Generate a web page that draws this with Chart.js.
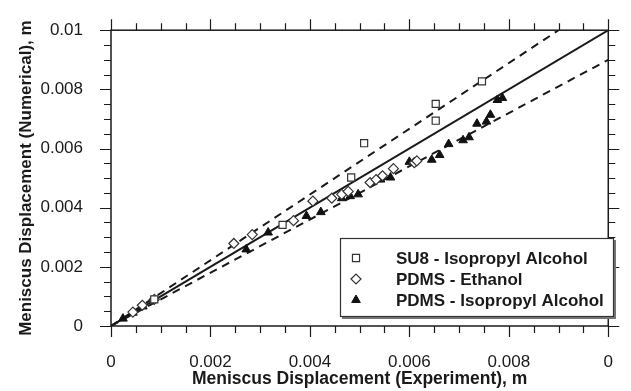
<!DOCTYPE html>
<html>
<head>
<meta charset="utf-8">
<script src="https://cdn.jsdelivr.net/npm/chart.js@4.4.1/dist/chart.umd.min.js"></script>
<style>
  html, body { margin: 0; padding: 0; background: #fff; }
  #wrap { width: 631px; height: 391px; }
</style>
</head>
<body>
<div id="wrap"><canvas id="chart" width="631" height="391"></canvas></div>
<script>
// ---------- Data (metres) ----------
const su8IpaX = [0.00087, 0.00345, 0.00483, 0.00509, 0.00653, 0.00653, 0.00746];
const su8IpaY = [0.00090, 0.00342, 0.00502, 0.00618, 0.00694, 0.00751, 0.00827];

const pdmsEthX = [0.00044, 0.00063, 0.00087, 0.00247, 0.00284, 0.00367, 0.00406, 0.00444, 0.00464, 0.00477,
                  0.00521, 0.00533, 0.00546, 0.00568, 0.00610, 0.00615];
const pdmsEthY = [0.00047, 0.00070, 0.00090, 0.00279, 0.00309, 0.00356, 0.00422, 0.00432, 0.00445, 0.00455,
                  0.00485, 0.00495, 0.00508, 0.00532, 0.00552, 0.00558];

const pdmsIpaX = [0.00024, 0.00044, 0.00064, 0.00272, 0.00316, 0.00393, 0.00422, 0.00464, 0.00481, 0.00497,
                  0.00542, 0.00562, 0.00600, 0.00645, 0.00661, 0.00679, 0.00708, 0.00720, 0.00736, 0.00755,
                  0.00763, 0.00777, 0.00787];
const pdmsIpaY = [0.00025, 0.00045, 0.00066, 0.00259, 0.00316, 0.00372, 0.00385, 0.00432, 0.00439, 0.00445,
                  0.00495, 0.00502, 0.00555, 0.00562, 0.00578, 0.00615, 0.00628, 0.00638, 0.00684, 0.00691,
                  0.00714, 0.00764, 0.00771];

// reference lines: y = x, and +/- 10 % bands
const perfectX = [0, 0.01];
const perfectY = [0, 0.01];
const upperX = [0, 0.009];
const upperY = [0, 0.01];
const lowerX = [0, 0.01];
const lowerY = [0, 0.009];

const X_TICKS = [0, 0.002, 0.004, 0.006, 0.008, 0.01];
const X_TICK_LABELS = ['0', '0.002', '0.004', '0.006', '0.008', '0'];
const Y_TICKS = [0, 0.002, 0.004, 0.006, 0.008, 0.01];
const Y_TICK_LABELS = ['0', '0.002', '0.004', '0.006', '0.008', '0.01'];

const SERIES_NAMES = ['SU8 - Isopropyl Alcohol', 'PDMS - Ethanol', 'PDMS - Isopropyl Alcohol'];

// ---------- Helpers ----------
const FONT = '"Liberation Sans", Arial, Helvetica, sans-serif';
const INK = '#1a1a1a';

function pairs(xs, ys) {
  return xs.map((x, i) => ({ x: x, y: ys[i] }));
}

function labelFor(ticks, labels, v) {
  const i = ticks.findIndex(t => Math.abs(t - v) < 1e-9);
  return i >= 0 ? labels[i] : '';
}

// ---------- Plugins ----------
// box frame with outward major/minor tick marks on all four sides
const frameTicks = {
  id: 'frameTicks',
  afterDatasetsDraw(chart) {
    const { ctx, chartArea: a, scales: { x, y } } = chart;
    ctx.save();
    ctx.strokeStyle = INK;
    ctx.lineWidth = 1.5;
    ctx.strokeRect(a.left, a.top, a.right - a.left, a.bottom - a.top);
    ctx.lineWidth = 1.2;
    ctx.beginPath();
    for (let k = 0; k <= 20; k++) {
      const v = k * 0.0005;
      const len = k % 4 === 0 ? 11 : 7;
      const px = Math.round(x.getPixelForValue(v)) + 0.5;
      const py = Math.round(y.getPixelForValue(v)) + 0.5;
      ctx.moveTo(px, a.bottom); ctx.lineTo(px, a.bottom + len);
      ctx.moveTo(px, a.top); ctx.lineTo(px, a.top - len);
      ctx.moveTo(a.left, py); ctx.lineTo(a.left - len, py);
      ctx.moveTo(a.right, py); ctx.lineTo(a.right + len, py);
    }
    ctx.stroke();
    ctx.restore();
  }
};

// boxed legend (with a thin drop shadow) in the lower right of the plot
const boxLegend = {
  id: 'boxLegend',
  afterDraw(chart) {
    const { ctx } = chart;
    const left = 340, top = 238, right = 613, bottom = 316;
    ctx.save();
    ctx.fillStyle = '#777';
    ctx.fillRect(left + 2, top + 2, right - left + 1, bottom - top + 1);
    ctx.fillStyle = '#fff';
    ctx.fillRect(left, top, right - left, bottom - top);
    ctx.strokeStyle = '#333';
    ctx.lineWidth = 1.2;
    ctx.strokeRect(left + 0.5, top + 0.5, right - left, bottom - top);
    ctx.font = 'bold 17px ' + FONT;
    ctx.textBaseline = 'middle';
    for (let i = 0; i < 3; i++) {
      const ds = chart.data.datasets[i];
      const cy = 258 + i * 21;
      ctx.strokeStyle = ds.borderColor;
      ctx.fillStyle = ds.backgroundColor;
      ctx.lineWidth = ds.borderWidth;
      Chart.helpers.drawPoint(ctx, { pointStyle: ds.pointStyle, radius: ds.pointRadius, borderWidth: ds.borderWidth }, 356, cy);
      ctx.fillStyle = INK;
      ctx.fillText(SERIES_NAMES[i], 396, cy + 1);
    }
    ctx.restore();
  }
};

// ---------- Chart ----------
const lineBase = { type: 'line', showLine: true, pointRadius: 0, borderColor: INK, borderWidth: 2, fill: false, order: 5 };

new Chart(document.getElementById('chart'), {
  type: 'scatter',
  data: {
    datasets: [
      { label: SERIES_NAMES[0], data: pairs(su8IpaX, su8IpaY), pointStyle: 'rect', pointRadius: 5,
        borderColor: '#333', backgroundColor: '#fff', borderWidth: 1.2 },
      { label: SERIES_NAMES[1], data: pairs(pdmsEthX, pdmsEthY), pointStyle: 'rectRot', pointRadius: 5,
        borderColor: '#333', backgroundColor: '#fff', borderWidth: 1.2 },
      { label: SERIES_NAMES[2], data: pairs(pdmsIpaX, pdmsIpaY), pointStyle: 'triangle', pointRadius: 5,
        borderColor: '#111', backgroundColor: '#111', borderWidth: 1 },
      Object.assign({ data: pairs(perfectX, perfectY) }, lineBase),
      Object.assign({ data: pairs(upperX, upperY), borderDash: [8, 6] }, lineBase),
      Object.assign({ data: pairs(lowerX, lowerY), borderDash: [8, 6] }, lineBase)
    ]
  },
  options: {
    responsive: false,
    animation: false,
    layout: { padding: { left: 0, right: 13, top: 25, bottom: 0 } },
    plugins: { legend: { display: false }, tooltip: { enabled: false } },
    scales: {
      x: {
        type: 'linear', min: 0, max: 0.01,
        afterBuildTicks: s => { s.ticks = X_TICKS.map(v => ({ value: v })); },
        afterFit: s => { s.height = 65; },
        grid: { display: false },
        border: { display: false },
        ticks: { padding: 18, color: INK, font: { family: FONT, size: 17 },
                 callback: v => labelFor(X_TICKS, X_TICK_LABELS, v) },
        title: { display: true, text: 'Meniscus Displacement (Experiment), m', color: INK,
                 font: { family: FONT, size: 17.5, weight: 'bold' }, padding: { top: 0, bottom: 1 } }
      },
      y: {
        type: 'linear', min: 0, max: 0.01,
        afterBuildTicks: s => { s.ticks = Y_TICKS.map(v => ({ value: v })); },
        afterFit: s => { s.width = 111; },
        grid: { display: false },
        border: { display: false },
        ticks: { padding: 20, color: INK, font: { family: FONT, size: 17 },
                 callback: v => labelFor(Y_TICKS, Y_TICK_LABELS, v) },
        title: { display: true, text: 'Meniscus Displacement (Numerical), m', color: INK,
                 font: { family: FONT, size: 17, weight: 'bold' }, padding: { top: 16, bottom: 0 } }
      }
    }
  },
  plugins: [frameTicks, boxLegend]
});
</script>
</body>
</html>
